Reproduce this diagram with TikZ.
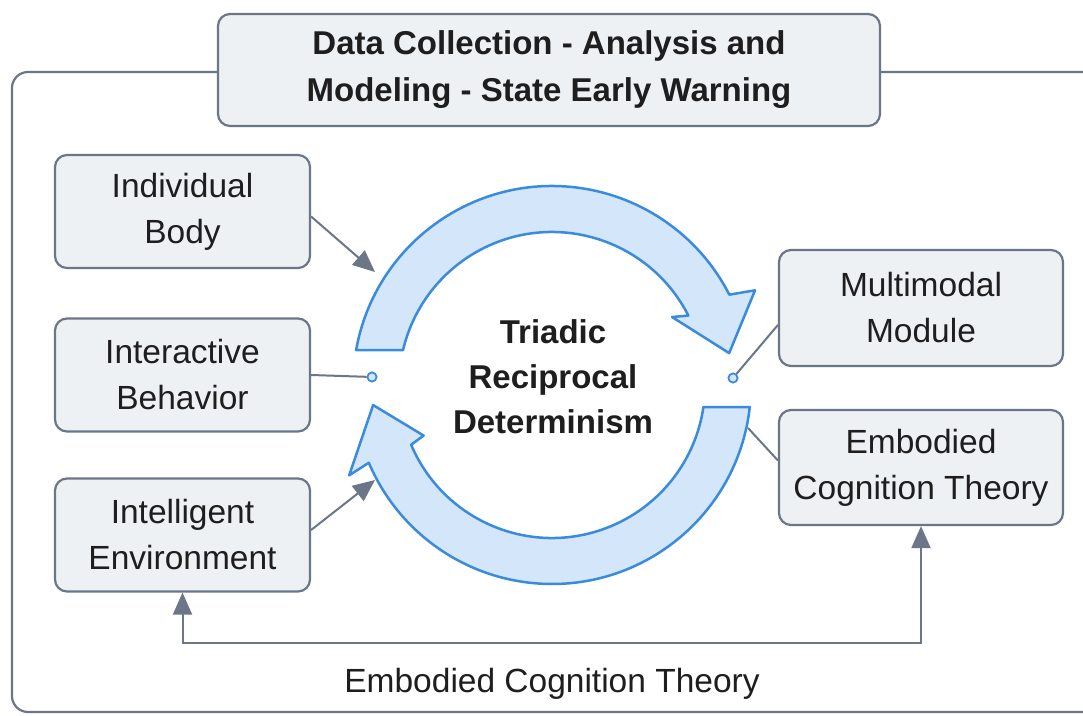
\documentclass[tikz,border=0pt]{standalone}
\usepackage{fontspec}
\setmainfont{Liberation Sans}
\usetikzlibrary{arrows.meta}
\definecolor{slate}{HTML}{6B7788}
\definecolor{boxfill}{HTML}{EEF1F4}
\definecolor{arcfill}{HTML}{D3E6FA}
\definecolor{arcline}{HTML}{3A8BDE}
\definecolor{txt}{HTML}{1E1E1E}
\begin{document}
\begin{tikzpicture}[x=1pt,y=1pt,
  box/.style={draw=slate, line width=2.2pt, fill=boxfill, rounded corners=12pt,
    minimum width=255pt, minimum height=113pt, align=center, inner sep=0pt,
    font=\fontsize{33.5}{46}\selectfont, text=txt},
  conn/.style={draw=slate, line width=2pt},
  tipa/.style={-{Triangle[length=22pt,width=19pt]}},
  bigarrow/.style={fill=arcfill, draw=arcline, line width=2.5pt, line join=round},
  dotnode/.style={circle, inner sep=0pt, minimum size=9pt, fill=arcfill, draw=arcline, line width=1.6pt}]
\useasboundingbox (0,0) rectangle (1083,715);
\fill[white] (0,0) rectangle (1083,715);
\begin{scope}
  \clip (0,0) rectangle (1083,715);
  \draw[slate, line width=2.2pt, rounded corners=16pt] (12,3) rectangle (1110,643);
\end{scope}
% title
\node[box, minimum width=662pt, minimum height=112pt, font=\bfseries\fontsize{33}{47}\selectfont]
  (title) at (549,645) {Data Collection - Analysis and\\Modeling - State Early Warning};
% circular arrows
\coordinate (C) at (552,330);
\path[bigarrow] ([shift={(169.9:199)}]C) arc[start angle=169.9, end angle=27, radius=199]
  -- ([shift={(25:224)}]C) -- ([shift={(10.2:180)}]C) -- ([shift={(29.5:138)}]C)
  -- ([shift={(27:153)}]C) arc[start angle=27, end angle=166.8, radius=153] -- cycle;
\path[bigarrow] ([shift={(-6.35:199)}]C) arc[start angle=-6.35, end angle=-157, radius=199]
  -- ([shift={(-156:222)}]C) -- ([shift={(-173.6:180)}]C) -- ([shift={(-158.5:138)}]C)
  -- ([shift={(-157:153)}]C) arc[start angle=-157, end angle=-8.27, radius=153] -- cycle;
\node[align=center, font=\bfseries\fontsize{33}{45}\selectfont, text=txt] (tri) at (553,338)
  {Triadic\\Reciprocal\\Determinism};
% boxes
\node[box] (ib) at (182.5,503.5) {Individual\\Body};
\node[box] (ibeh) at (182.5,340) {Interactive\\Behavior};
\node[box] (ie) at (182.5,180) {Intelligent\\Environment};
\node[box, minimum width=284pt, minimum height=116pt] (mm) at (921,407) {Multimodal\\Module};
\node[box, minimum width=284pt, minimum height=115pt] (ect) at (921,247.5) {Embodied\\Cognition Theory};
% connectors
\coordinate (tipIB) at (375,443);
\coordinate (tipIE) at (375,235);
\coordinate (ectstart) at (748,287);
\coordinate (fbR) at (921,72);
\coordinate (fbL) at (182.5,72);
\node[dotnode] (dl) at (372,338) {};
\node[dotnode] (dr) at (733,337) {};
\draw[conn,tipa] ([yshift=-5pt]ib.east) -- (tipIB);
\draw[conn] (ibeh.east) -- (dl);
\draw[conn,tipa] ([yshift=5pt]ie.east) -- (tipIE);
\draw[conn] (dr) -- ([yshift=-17pt]mm.west);
\draw[conn] (ectstart) -- ([yshift=7pt]ect.west);
\draw[conn, {Triangle[length=22pt,width=19pt]}-{Triangle[length=22pt,width=19pt]}]
  (ect.south) -- (fbR) -- (fbL) -- (ie.south);
\node[dotnode] at (dl) {};
\node[dotnode] at (dr) {};
\node[font=\fontsize{33.5}{40}\selectfont, text=txt] (lbl) at (552,31) {Embodied Cognition Theory};
\end{tikzpicture}
\end{document}
